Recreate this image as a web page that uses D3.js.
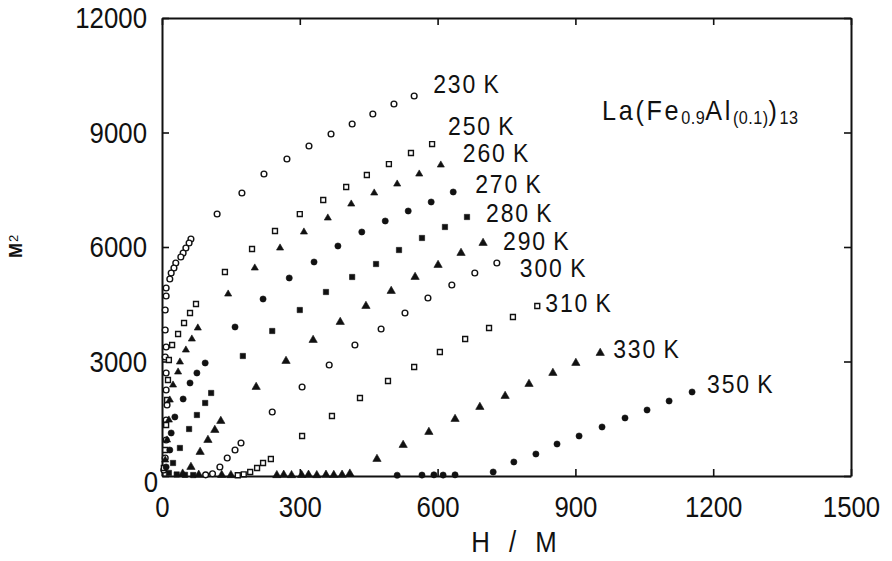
<!DOCTYPE html>
<html lang="en">
<head>
<meta charset="UTF-8">
<title>Arrott plot La(Fe0.9Al0.1)13</title>
<script src="https://d3js.org/d3.v7.min.js"></script>
<style>
  body { margin: 0; background: #fff; }
  text { font-family: "Liberation Sans", Arial, sans-serif; fill: #111; }
</style>
</head>
<body>
<svg id="chart" width="892" height="561"></svg>
<script>
// isotherm labels
const temps = ["230 K", "250 K", "260 K", "270 K", "280 K", "290 K", "300 K", "310 K", "330 K", "350 K"];

// [H/M, M^2], one array per isotherm
const s230 = [[549,9956],[505,9746],[459,9484],[414,9222],[368,8960],[320,8646],[272,8305],[222,7912],[174,7415],[120,6865],
  [63,6209],[59,6105],[52,5974],[46,5843],[41,5738],[30,5581],[26,5450],[20,5319],[17,5161],
  [9,4926],[9,4716],[7,4349],[7,3825],[9,3380],[7,3118],[9,2699],[9,2253],[11,1860],[9,1467],[9,943],[7,472],[4,157]];
const s250 = [[588,8698],[542,8463],[494,8174],[446,7886],[401,7572],[351,7231],[300,6864],[246,6419],[196,5947],[137,5345],
  [74,4506],[61,4271],[48,4009],[35,3720],[22,3432],[15,3039],[13,2515],[11,1991],[9,1336],[7,681],[4,210]];
const s260 = [[607,8148],[560,7912],[512,7650],[462,7415],[412,7126],[361,6760],[309,6393],[257,5974],[202,5450],[144,4768],
  [78,3878],[65,3589],[52,3301],[39,2987],[35,2725],[24,2384],[17,1991],[15,1467],[11,943],[7,419]];
const s270 = [[634,7441],[586,7179],[536,6943],[486,6681],[435,6393],[383,6026],[331,5607],[277,5188],[220,4637],[159,3904],
  [94,2961],[76,2699],[61,2437],[46,2017],[28,1546],[20,1127],[17,681],[9,236]];
const s280 = [[664,6786],[616,6524],[566,6236],[516,5921],[466,5554],[414,5214],[357,4821],[300,4349],[240,3799],[176,3144],
  [107,2175],[94,1913],[76,1598],[59,1231],[39,734],[24,341],[15,80],[32,40],[50,30],[68,25]];
const s290 = [[699,6105],[651,5843],[601,5528],[551,5214],[499,4847],[444,4454],[388,4035],[329,3563],[270,3013],[205,2332],
  [128,1441],[115,1205],[100,943],[83,629],[63,236],[45,60],[80,30],[130,25],[150,20]];
const s300 = [[729,5581],[681,5319],[631,5004],[579,4664],[529,4271],[477,3851],[420,3432],[364,2908],[305,2332],[240,1677],
  [172,865],[159,681],[142,472],[126,236],[110,60],[95,30]];
const s310 = [[817,4454],[764,4166],[712,3878],[660,3589],[605,3249],[549,2856],[492,2489],[431,2044],[370,1572],[305,1048],
  [237,445],[220,341],[207,210],[192,105],[178,45],[165,20]];
const s330 = [[954,3223],[901,2961],[851,2699],[799,2410],[747,2096],[692,1808],[638,1493],[581,1153],[525,812],[468,445],
  [409,60],[392,30],[374,25],[357,30],[337,20],[319,30],[304,25],[282,20],[265,30],[250,20]];
const s350 = [[1154,2201],[1104,1965],[1056,1729],[1008,1520],[958,1284],[908,1048],[860,838],[814,576],[766,367],[721,105],
  [638,30],[612,25],[592,30],[566,25],[512,20]];

const xTicks = [0, 300, 600, 900, 1200, 1500];
const yTicks = [0, 3000, 6000, 9000, 12000];

const seriesPts = [s230, s250, s260, s270, s280, s290, s300, s310, s330, s350];
const markerKind = ["oc", "os", "ts", "fc", "fs", "ft", "oc", "os", "ft", "fc"];
const labelNudge = [[19,-3],[16,-9],[22,-3],[22,1],[19,5],[20,7],[23,14],[8,6],[13,5],[15,1]];

const SQ = 0.86; // horizontal squeeze to mimic the narrow plotter lettering

const svg = d3.select("#chart");
const x = d3.scaleLinear().domain([0, 1500]).range([162, 851]);
const y = d3.scaleLinear().domain([0, 12000]).range([476, 18]);

// frame with inward ticks
const bottom = svg.append("g").attr("transform", "translate(0,476)")
  .call(d3.axisBottom(x).tickValues(xTicks).tickSizeInner(-7).tickSizeOuter(0).tickPadding(20).tickFormat(d3.format("d")));
const left = svg.append("g").attr("transform", "translate(162,0)")
  .call(d3.axisLeft(y).tickValues(yTicks).tickSizeInner(-7).tickSizeOuter(0).tickPadding(15).tickFormat(d3.format("d")));
svg.append("g").attr("transform", "translate(0,18)")
  .call(d3.axisTop(x).tickValues(xTicks).tickSizeInner(-7).tickSizeOuter(0).tickFormat(""));
svg.append("g").attr("transform", "translate(851,0)")
  .call(d3.axisRight(y).tickValues(yTicks).tickSizeInner(-7).tickSizeOuter(0).tickFormat(""));

svg.selectAll(".domain").attr("stroke", "#111").attr("stroke-width", 2);
svg.selectAll(".tick line").attr("stroke", "#111").attr("stroke-width", 1.6);
svg.selectAll(".tick text").attr("font-size", 30).attr("fill", "#111")
  .style("font-family", '"Liberation Sans", Arial, sans-serif')
  .attr("transform", `scale(${SQ},1)`);
left.selectAll(".tick text").attr("x", -15 / SQ);
// origin label of the y axis sits in the corner
left.selectAll(".tick text").filter(d => d === 0).attr("x", -4 / SQ).attr("dy", "0.5em");

// axis titles
svg.append("text").attr("transform", `translate(514,552) scale(${SQ},1)`).attr("text-anchor", "middle")
  .attr("font-size", 30).attr("word-spacing", 14).text("H / M");
const yt = svg.append("text").attr("transform", "translate(22,258) rotate(-90)")
  .attr("font-size", 18).attr("font-weight", "bold");
yt.append("tspan").text("M");
yt.append("tspan").attr("font-size", 13).attr("dy", -4).attr("dx", 1).attr("font-weight", "normal").text("2");

// compound name
const f = svg.append("text").attr("transform", `translate(602,120) scale(0.9,1)`)
  .attr("font-size", 28).attr("letter-spacing", 3);
f.append("tspan").text("La(Fe");
f.append("tspan").attr("font-size", 18).attr("dy", 4).attr("letter-spacing", 0.5).text("0.9");
f.append("tspan").attr("dy", -4).text("Al");
f.append("tspan").attr("font-size", 18).attr("dy", 4).attr("letter-spacing", 0.5).text("(0.1)");
f.append("tspan").attr("dy", -4).text(")");
f.append("tspan").attr("font-size", 18).attr("dy", 4).attr("letter-spacing", 0.5).text("13");

// markers
const symFor = {
  oc: d3.symbol().type(d3.symbolCircle).size(26),
  fc: d3.symbol().type(d3.symbolCircle).size(30),
  os: d3.symbol().type(d3.symbolSquare).size(24),
  fs: d3.symbol().type(d3.symbolSquare).size(28),
  ft: d3.symbol().type(d3.symbolTriangle).size(30),
  ts: d3.symbol().type(d3.symbolTriangle).size(22)
};

seriesPts.forEach((pts, i) => {
  const kind = markerKind[i];
  const open = kind[0] === "o";
  svg.append("g").selectAll("path").data(pts).join("path")
    .attr("transform", d => `translate(${x(d[0])},${y(d[1])})`)
    .attr("d", symFor[kind]())
    .attr("fill", open ? "#fff" : "#111")
    .attr("stroke", "#111")
    .attr("stroke-width", open ? 1.4 : 0.6);

  const last = pts[0];
  svg.append("text")
    .attr("transform", `translate(${x(last[0]) + labelNudge[i][0]},${y(last[1]) + labelNudge[i][1]}) scale(0.92,1)`)
    .attr("font-size", 25).attr("letter-spacing", 2).attr("word-spacing", -2)
    .text(temps[i]);
});
</script>
</body>
</html>
